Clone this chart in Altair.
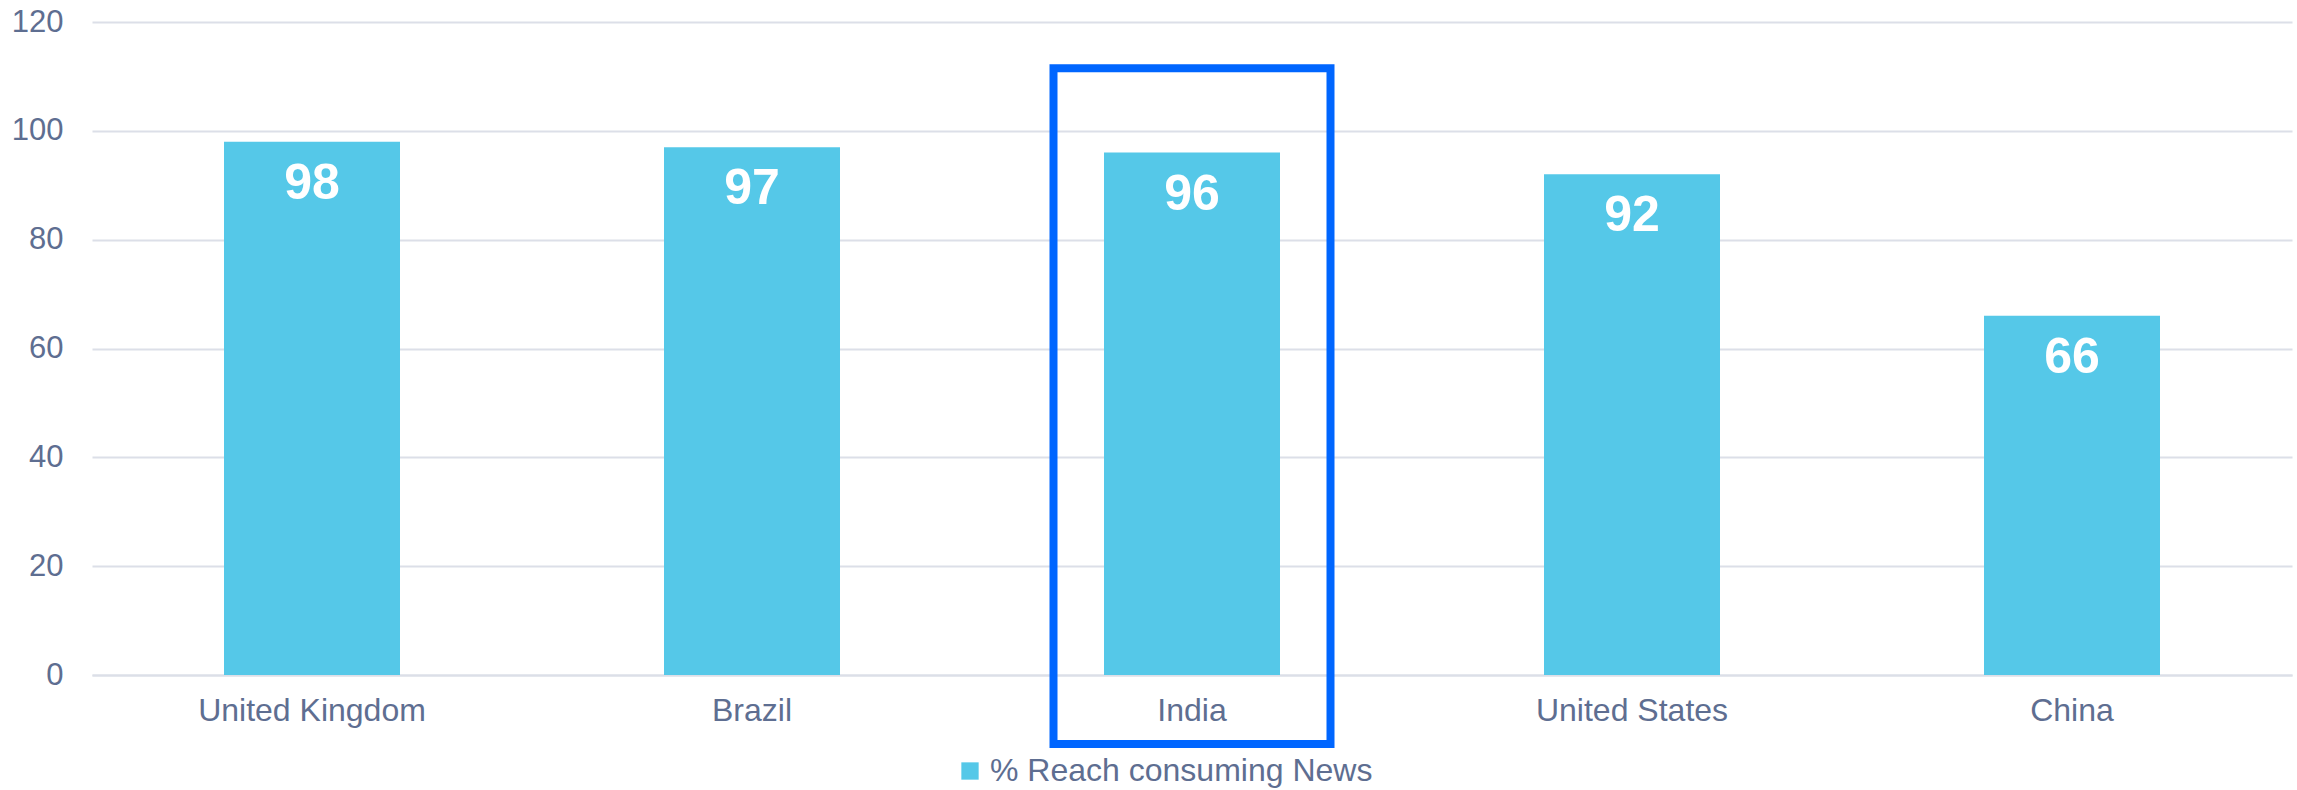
import altair as alt
import pandas as pd

countries = ["United Kingdom", "Brazil", "India", "United States", "China"]
values = [98, 97, 96, 92, 66]
series_name = "% Reach consuming News"
highlight = ["India"]

df = pd.DataFrame({"country": countries, "value": values, "series": [series_name] * len(countries)})
hl = pd.DataFrame({"country": highlight, "top": [111.5], "bottom": [-12.7]})

AX = "#5E6E91"
GRID = "#DCDFE8"
BAR = "#55C8E8"
FONT = "Liberation Sans"

x = alt.X("country:N", sort=countries, title=None,
          scale=alt.Scale(paddingInner=0.6, paddingOuter=0.3),
          axis=alt.Axis(labelAngle=0, labelPadding=20, domainColor=GRID, domainWidth=2, grid=False))

bars = alt.Chart(df).mark_bar(color=BAR).encode(
    x=x,
    y=alt.Y("value:Q", title=None,
            scale=alt.Scale(domain=[0, 120]),
            axis=alt.Axis(values=[0, 20, 40, 60, 80, 100, 120], labelPadding=29, domain=False,
                          gridColor=GRID, gridWidth=2)),
    color=alt.Color("series:N", title=None,
                    scale=alt.Scale(domain=[series_name], range=[BAR]),
                    legend=alt.Legend(orient="none", legendX=862, legendY=733, symbolType="square")),
)

labels = alt.Chart(df).mark_text(color="white", fontSize=50, fontWeight="bold", font=FONT,
                                 baseline="middle", dy=42).encode(
    x=alt.X("country:N", sort=countries, title=None),
    y=alt.Y("value:Q", title=None),
    text="value:Q",
)

box = alt.Chart(hl).mark_bar(filled=False, stroke="#0066FF", strokeWidth=8, size=277, clip=False).encode(
    x=alt.X("country:N", sort=countries, title=None),
    y=alt.Y("top:Q", title=None),
    y2="bottom:Q",
)

chart = alt.layer(bars, labels, box).properties(
    width=2200, height=653,
    autosize=alt.AutoSizeParams(type="none"),
    padding={"left": 92, "top": 22, "right": 5, "bottom": 115},
).configure_view(stroke=None).configure_axis(
    labelColor=AX, labelFont=FONT, ticks=False, labelLimit=1000,
).configure_axisX(labelFontSize=32).configure_axisY(labelFontSize=31).configure_legend(
    symbolSize=300, labelFontSize=32, labelColor=AX, labelFont=FONT,
    symbolStrokeWidth=0, padding=0, labelOffset=4, labelLimit=1000,
)

chart.save("out.html", embed_options={"renderer": "svg", "actions": False})
